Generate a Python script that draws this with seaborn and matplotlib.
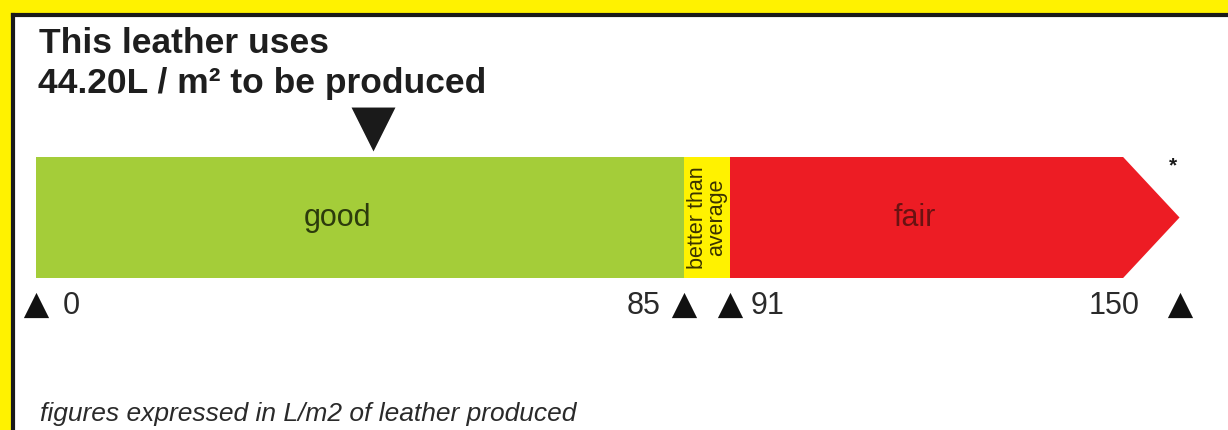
import matplotlib
matplotlib.use("Agg")
import matplotlib.pyplot as plt
from matplotlib.patches import Polygon
import seaborn as sns

# rating bands, figures in L/m2
band_names = ["good", "better than\naverage", "fair"]
band_edges = [0, 85, 91, 150]
band_colors = ["#a4cd39", "#fff200", "#ed1c24"]
text_colors = ["#2c3b0c", "#3a3300", "#6a1212"]

leather_value = 44.20
tick_values = [0, 85, 91, 150]
tick_labels = ["0", "85", "91", "150"]

title_1 = "This leather uses"
title_2 = "44.20L / m\u00b2 to be produced"
footnote = "figures expressed in L/m2 of leather produced"

sns.set_theme(style="white")
plt.rcParams["font.family"] = ["Liberation Sans", "DejaVu Sans"]

W, H = 1228, 430
fig = plt.figure(figsize=(W / 100, H / 100), dpi=100)
fig.patch.set_facecolor("#fff200")
ax = fig.add_axes([13 / W, 0, 1 - 13 / W, 1 - 15 / H])
ax.set_facecolor("white")

# stacked bar by layering, longest segment first
head = 7.4  # length of the arrow head
ends = [band_edges[3] - head, band_edges[2], band_edges[1]]
for end, col in zip(ends, band_colors[::-1]):
    sns.barplot(x=[end], y=["scale"], orient="h", color=col, saturation=1,
                width=1, errorbar=None, linewidth=0, ax=ax)
ax.add_patch(Polygon([[ends[0] - 1, -0.5], [ends[0], -0.5], [band_edges[3], 0],
                      [ends[0], 0.5], [ends[0] - 1, 0.5]],
                     closed=True, facecolor=band_colors[2], edgecolor="none"))

# band labels
label_x = [39.5, 88, 115.3]
label_size = [22, 15.5, 22]
label_rot = [0, 90, 0]
for name, x, c, fs, rot in zip(band_names, label_x, text_colors, label_size, label_rot):
    ax.text(x, 0.0, name, ha="center", va="center", color=c, fontsize=fs,
            rotation=rot, linespacing=0.85)
ax.text(band_edges[3] - 0.9, -0.43, "*", ha="center", va="center", fontsize=15,
        fontweight="bold", color="#1a1a1a")

# scale markers under the bar
sns.scatterplot(x=tick_values, y=[0.723] * len(tick_values), marker="^", s=330,
                color="#111111", linewidth=0, ax=ax)
offsets = [19, -16.6, 15, -29]
for v, lab, dx in zip(tick_values, tick_labels, offsets):
    ax.annotate(lab, xy=(v, 0.80), xytext=(dx, 0), textcoords="offset points",
                ha="left" if dx > 0 else "right", va="baseline",
                fontsize=22, color="#2a2a2a")

# this leather
sns.scatterplot(x=[leather_value], y=[-0.73], marker="v", s=1000,
                color="#1a1a1a", linewidth=0, ax=ax)

px = (684 - 36) / 85
ax.set_xlim((13 - 36) / px, (1228 - 36) / px)
ax.set_ylim((430 - 217.5) / 121, (15 - 217.5) / 121)
ax.set_xticks([])
ax.set_yticks([])
ax.set_xlabel("")
ax.set_ylabel("")
for s in ["right", "bottom"]:
    ax.spines[s].set_visible(False)
for s in ["left", "top"]:
    ax.spines[s].set_color("#1a1a1a")
    ax.spines[s].set_linewidth(3)

fig.text(39 / W, 1 - 53 / H, title_1, fontsize=25.5, fontweight="bold", color="#1e1e1e", va="baseline")
fig.text(38 / W, 1 - 93 / H, title_2, fontsize=25.5, fontweight="bold", color="#1e1e1e", va="baseline")
fig.text(40 / W, 1 - 421 / H, footnote, fontsize=19, fontstyle="italic", color="#2a2a2a", va="baseline")

fig.savefig("out.png", dpi=100, facecolor=fig.get_facecolor())
